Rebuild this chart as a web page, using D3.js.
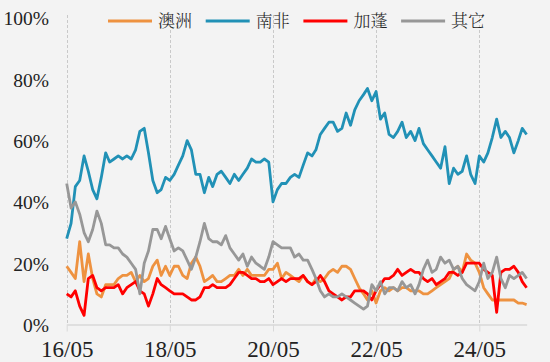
<!DOCTYPE html>
<html lang="zh">
<head>
    <meta charset="UTF-8">
    <title>Share chart</title>
    <style>
        body {
            margin: 0;
            padding: 0;
            background-color: #f3f3f3;
        }

        svg {
            display: block;
        }

        .num {
            font-family: "Liberation Serif", "Times New Roman", serif;
            fill: #222;
        }

        .legend-text {
            font-family: "Noto Serif CJK SC", "Noto Sans CJK SC", sans-serif;
            font-size: 17px;
            font-weight: 300;
            fill: #222;
        }
    </style>
</head>
<body>
    <div id="chart"></div>
    <script src="https://d3js.org/d3.v7.min.js"></script>
    <script>
        const width = 550;
        const height = 362;

        // monthly observations, first one is 2016-05
        const startMonth = "2016-05";
        const endMonth = "2025-04";
        const xTickLabels = ["16/05", "18/05", "20/05", "22/05", "24/05"];
        const yTicks = [0, 20, 40, 60, 80, 100];
        const seriesNames = ["澳洲", "南非", "加蓬", "其它"];
        const seriesColors = ["#ee9240", "#2191b6", "#ff0000", "#979797"];

        const australia = [
            19, 17, 15, 27, 14, 23, 15, 10, 9, 13,
            13, 13, 15, 16, 16, 17, 14, 16, 14, 15,
            19, 21, 16, 19, 16, 19, 19, 16, 15, 20,
            22, 19, 14, 15, 16, 14, 14, 15, 16, 16,
            18, 16, 18, 16, 16, 16, 16, 18, 18, 20,
            15, 17, 16, 15, 14, 16, 14, 13, 15, 14,
            15, 17, 18, 17, 19, 19, 18, 15, 12, 10,
            8, 11, 7, 11, 12, 11, 12, 11, 12, 12,
            11, 11, 11, 10, 10, 11, 12, 13, 14, 15,
            18, 19, 17, 23, 21, 20, 17, 12, 10, 8,
            8, 8, 8, 8, 8, 7, 7, 6.5
        ];

        const southAfrica = [
            28, 33, 45, 47, 55, 50, 44, 41, 48, 56,
            53, 54, 55, 54, 55, 54, 57, 63, 64, 56,
            47, 43, 44, 48, 47, 49, 52, 55, 60, 57,
            49, 49, 43, 48, 45, 49, 50, 48, 46, 49,
            47, 49, 51, 54, 53, 53, 54, 53, 40, 44,
            46, 46, 48, 49, 48, 52, 56, 55, 57, 62,
            64, 66, 66, 63, 64, 69, 65, 70, 73, 75,
            77, 73, 76, 67, 69, 62, 61, 63, 66, 61,
            63, 60, 64, 59, 57, 55, 53, 51, 58, 46,
            51, 49, 50, 55, 49, 46, 55, 53, 56, 61,
            67, 61, 63, 61, 56, 60, 64, 62
        ];

        const gabon = [
            10, 9, 11, 6, 3, 15, 16, 12, 11, 12,
            12, 12, 13, 10, 12, 13, 14, 11, 10, 6,
            10, 15, 13, 12, 11, 10, 10, 10, 9, 8,
            8, 9, 12, 12, 13, 12, 12, 12, 13, 15,
            17, 17, 16, 15, 15, 14, 14, 15, 13, 14,
            15, 14, 15, 15, 15, 16, 14, 13, 14, 16,
            14, 11, 10, 9, 8, 9, 9, 11, 11, 11,
            10, 8, 11, 13, 15, 15, 16, 18, 16, 17,
            18, 17, 17, 15, 14, 15, 13, 14, 15, 17,
            17, 16, 17, 20, 20, 20, 20, 18, 17, 16,
            4, 17, 18, 18, 19, 17, 14, 12
        ];

        const others = [
            46, 38, 40, 36, 30, 27, 31, 37, 33, 26,
            26, 25, 25, 23, 22, 20, 18, 10, 20, 24,
            31, 31, 28, 32, 28, 24, 25, 24, 21, 18,
            22, 27, 33, 28, 27, 27, 26, 29, 25, 23,
            21, 23, 19, 22, 20, 19, 18, 22, 27, 26,
            25, 25, 25, 22, 23, 21, 21, 18, 15, 11,
            9, 10, 9, 9, 10, 9, 8, 7, 6, 5,
            6, 13, 11, 14, 10, 12, 12, 11, 14, 12,
            13, 10, 13, 18, 21, 17, 18, 22, 20, 21,
            18, 19, 15, 13, 12, 11, 14, 20, 15, 17,
            22, 15, 12, 16, 15, 16, 17, 15
        ];

        const allSeries = [australia, southAfrica, gabon, others];

        const parseMonth = d3.timeParse("%Y-%m");
        const parseTick = d3.timeParse("%y/%m");
        const months = australia.map((d, i) => d3.timeMonth.offset(parseMonth(startMonth), i));

        const svg = d3.select("#chart")
            .append("svg")
            .attr("width", width)
            .attr("height", height);

        svg.append("rect")
            .attr("width", width)
            .attr("height", height)
            .attr("fill", "#f3f3f3");

        const xScale = d3.scaleTime()
            .domain([parseMonth(startMonth), parseMonth(endMonth)])
            .range([66.7, 526.6]);
        const yScale = d3.scaleLinear().domain([0, 100]).range([324.5, 18]);

        const tickDates = xTickLabels.map(parseTick);

        // dashed vertical grid
        svg.append("g")
            .selectAll("line")
            .data(tickDates)
            .enter()
            .append("line")
            .attr("x1", d => Math.round(xScale(d)) + 0.5)
            .attr("x2", d => Math.round(xScale(d)) + 0.5)
            .attr("y1", 15)
            .attr("y2", yScale(0))
            .attr("stroke", "#c9c9c9")
            .attr("stroke-width", 1)
            .attr("stroke-dasharray", "3,2");

        // x axis
        const xAxis = d3.axisBottom(xScale)
            .tickValues(tickDates)
            .tickFormat((d, i) => xTickLabels[i])
            .tickSize(7)
            .tickSizeOuter(0);

        const gx = svg.append("g")
            .attr("transform", `translate(0,${yScale(0)})`)
            .call(xAxis);
        gx.select(".domain").attr("stroke", "#d9d9d9").attr("stroke-width", 1.5);
        gx.selectAll(".tick line").attr("stroke", "#d9d9d9").attr("stroke-width", 1);
        gx.selectAll(".tick text")
            .attr("class", "num")
            .attr("y", 32)
            .attr("dy", 0)
            .style("font-size", "23px")
            .attr("fill", "#222");

        // y labels (no axis line)
        svg.append("g")
            .selectAll("text")
            .data(yTicks)
            .enter()
            .append("text")
            .attr("class", "num")
            .attr("x", 49)
            .attr("y", d => yScale(d) + 1)
            .attr("dy", "0.33em")
            .attr("text-anchor", "end")
            .style("font-size", "19.5px")
            .text(d => d + "%");

        // series
        const line = d3.line()
            .x((d, i) => xScale(months[i]))
            .y(d => yScale(d));

        svg.append("g")
            .selectAll("path")
            .data(allSeries)
            .enter()
            .append("path")
            .attr("d", line)
            .attr("fill", "none")
            .attr("stroke", (d, i) => seriesColors[i])
            .attr("stroke-width", 2.8)
            .attr("stroke-linejoin", "round");

        // legend
        const legend = svg.append("g")
            .selectAll("g")
            .data(seriesNames)
            .enter()
            .append("g")
            .attr("transform", (d, i) => `translate(${108 + i * 97.7},21)`);

        legend.append("line")
            .attr("x1", 0)
            .attr("x2", 44)
            .attr("stroke", (d, i) => seriesColors[i])
            .attr("stroke-width", 3);

        legend.append("text")
            .attr("class", "legend-text")
            .attr("x", 50)
            .attr("dy", "0.36em")
            .text(d => d);
    </script>
</body>
</html>
